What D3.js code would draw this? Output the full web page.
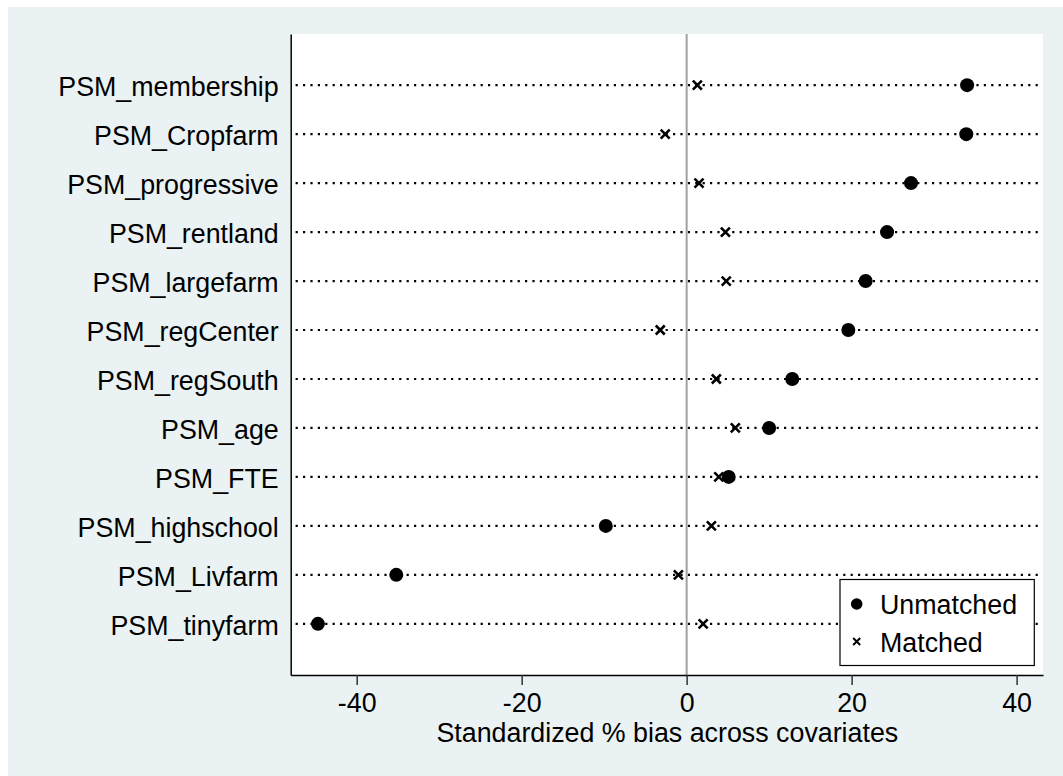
<!DOCTYPE html>
<meta charset="utf-8">
<style>
body {
  margin: 0;
  background: #fff;
}

text {
  font-family: "Liberation Sans", Arial, Helvetica, sans-serif;
  fill: #000;
}

.dotline {
  stroke: #000;
  stroke-width: 2.2px;
  stroke-dasharray: 0 7.4;
  stroke-linecap: square;
}
</style>
<div id="chart"></div>
<script src="https://d3js.org/d3.v7.min.js"></script>
<script>
  var covariates = ["PSM_membership", "PSM_Cropfarm", "PSM_progressive", "PSM_rentland",
                    "PSM_largefarm", "PSM_regCenter", "PSM_regSouth", "PSM_age",
                    "PSM_FTE", "PSM_highschool", "PSM_Livfarm", "PSM_tinyfarm"];
  var unmatched = [34.0, 33.9, 27.2, 24.3, 21.7, 19.6, 12.8, 10.0, 5.1, -9.8, -35.2, -44.7];
  var matched = [1.3, -2.6, 1.5, 4.7, 4.8, -3.2, 3.6, 5.9, 3.9, 3.0, -1.0, 2.0];
  var x_ticks = [-40, -20, 0, 20, 40];
  var legend_labels = ["Unmatched", "Matched"];

  var width = 1063, height = 776;
  var plot = {left: 290.7, right: 1043, top: 34, bottom: 675};
  var font_size = 26.8;

  var svg =
    d3.select("#chart")
      .append("svg")
      .attr("width", width)
      .attr("height", height);

  // stata-ish background
  svg.append("rect")
     .attr("x", 8).attr("y", 7)
     .attr("width", width - 8).attr("height", height - 7)
     .attr("fill", "#eaf2f3");

  svg.append("rect")
     .attr("x", plot.left).attr("y", plot.top)
     .attr("width", plot.right - plot.left).attr("height", plot.bottom - plot.top)
     .attr("fill", "#fff");

  var x =
    d3.scaleLinear()
      .domain([-48, 43.2])
      .range([plot.left, plot.right]);

  var y =
    d3.scalePoint()
      .domain(covariates)
      .range([plot.top, plot.bottom])
      .padding(1.045);

  // dotted guide lines
  svg.selectAll(".dotline")
     .data(covariates)
     .enter()
     .append("line")
     .attr("class", "dotline")
     .attr("x1", plot.left + 6)
     .attr("x2", plot.right - 2)
     .attr("y1", function(d) { return y(d); })
     .attr("y2", function(d) { return y(d); });

  // zero line
  svg.append("line")
     .attr("x1", x(0)).attr("x2", x(0))
     .attr("y1", plot.top).attr("y2", plot.bottom)
     .attr("stroke", "#a0a0a0")
     .attr("stroke-width", 2);

  // axes
  var x_axis =
    svg.append("g")
       .attr("transform", "translate(0," + plot.bottom + ")")
       .call(d3.axisBottom(x)
               .tickValues(x_ticks)
               .tickFormat(function(d) { return String(d); })
               .tickSize(10).tickSizeOuter(0).tickPadding(8));

  x_axis.select(".domain").attr("stroke", "#000").attr("stroke-width", 1.5);
  x_axis.selectAll(".tick line").attr("stroke", "#333").attr("stroke-width", 1.5);
  x_axis.selectAll(".tick text")
        .attr("font-size", font_size)
        .attr("font-family", "'Liberation Sans', Arial, sans-serif")
        .attr("fill", "#000");

  var y_axis =
    svg.append("g")
       .attr("transform", "translate(" + plot.left + ",0)")
       .call(d3.axisLeft(y).tickSize(0).tickSizeOuter(0).tickPadding(12));

  y_axis.select(".domain").attr("stroke", "#000").attr("stroke-width", 1.5);
  y_axis.selectAll(".tick text")
        .attr("font-size", font_size)
        .attr("font-family", "'Liberation Sans', Arial, sans-serif")
        .attr("fill", "#000")
        .attr("dy", "0.4em");

  svg.append("text")
     .attr("x", (plot.left + plot.right) / 2 + 0.5)
     .attr("y", 741.5)
     .attr("text-anchor", "middle")
     .attr("font-size", font_size)
     .text("Standardized % bias across covariates");

  // markers
  var cross = function(s) {
    return "M" + (-s) + "," + (-s) + "L" + s + "," + s + "M" + (-s) + "," + s + "L" + s + "," + (-s);
  };

  svg.selectAll(".unmatched")
     .data(unmatched)
     .enter()
     .append("circle")
     .attr("class", "unmatched")
     .attr("cx", function(d) { return x(d); })
     .attr("cy", function(d, i) { return y(covariates[i]); })
     .attr("r", 7)
     .attr("fill", "#000");

  svg.selectAll(".matched")
     .data(matched)
     .enter()
     .append("path")
     .attr("class", "matched")
     .attr("d", cross(4.5))
     .attr("transform", function(d, i) { return "translate(" + x(d) + "," + y(covariates[i]) + ")"; })
     .attr("stroke", "#000")
     .attr("stroke-width", 2.6)
     .attr("fill", "none");

  // legend
  var legend = svg.append("g").attr("transform", "translate(840,579.5)");

  legend.append("rect")
        .attr("width", 194.3)
        .attr("height", 86)
        .attr("fill", "#fff")
        .attr("stroke", "#000")
        .attr("stroke-width", 1.2);

  legend.append("circle")
        .attr("cx", 16.7).attr("cy", 24.5)
        .attr("r", 5.8)
        .attr("fill", "#000");

  legend.append("path")
        .attr("d", cross(3.5))
        .attr("transform", "translate(16.7,62)")
        .attr("stroke", "#000")
        .attr("stroke-width", 2)
        .attr("fill", "none");

  legend.selectAll(".legend-text")
        .data(legend_labels)
        .enter()
        .append("text")
        .attr("class", "legend-text")
        .attr("x", 40)
        .attr("y", function(d, i) { return 34.5 + i * 37.7; })
        .attr("font-size", font_size)
        .text(function(d) { return d; });
</script>
